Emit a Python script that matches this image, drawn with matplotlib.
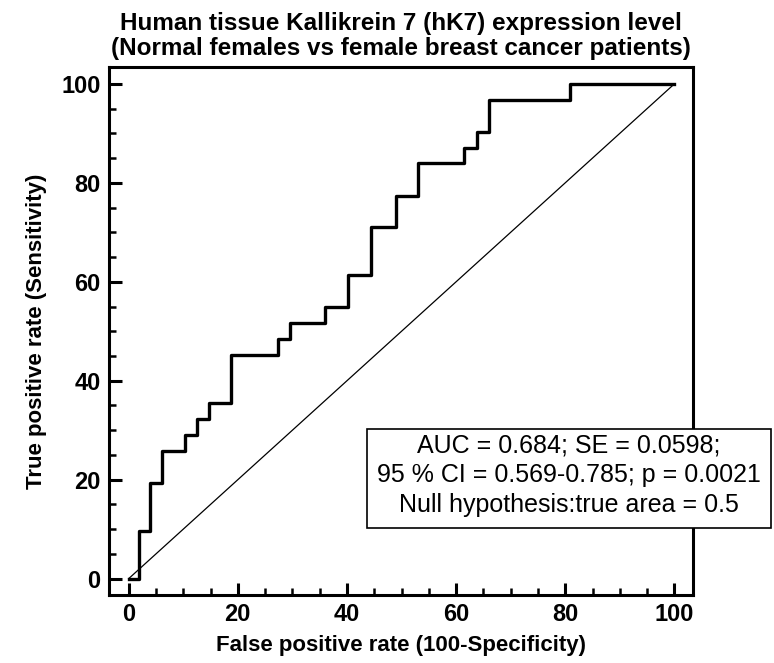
import matplotlib
matplotlib.use('Agg')
import matplotlib.pyplot as plt
from matplotlib.ticker import MultipleLocator
from matplotlib.patches import Rectangle

plt.rcParams['font.family'] = ['Liberation Sans', 'DejaVu Sans']

# ROC curve corner points, drawn as steps-post
fpr = [0, 1.9, 3.85, 6.1, 10.26, 12.5, 14.65, 18.8, 27.35, 29.5, 35.9,
       40.2, 44.4, 48.9, 53.0, 61.5, 63.8, 66.0, 80.9, 100]
tpr = [0, 9.7, 19.4, 25.8, 29.0, 32.3, 35.5, 45.2, 48.4, 51.6, 54.8,
       61.3, 71.0, 77.4, 83.9, 87.1, 90.3, 96.8, 100, 100]
ref_line = [0, 100]

title = ('Human tissue Kallikrein 7 (hK7) expression level\n'
         '(Normal females vs female breast cancer patients)')
stats_lines = ['AUC = 0.684; SE = 0.0598;',
               '95 % CI = 0.569-0.785; p = 0.0021',
               'Null hypothesis:true area = 0.5']

fig = plt.figure(figsize=(7.74, 6.63), dpi=100)
ax = fig.add_axes([109/774, 1 - 595/663, 584/774, 528/663])

ax.plot(ref_line, ref_line, color='black', lw=0.9)
ax.plot(fpr, tpr, color='black', lw=2.4, drawstyle='steps-post')

ax.set_xlim(-3.6, 103.4)
ax.set_ylim(-3.3, 103.4)
for s in ax.spines.values():
    s.set_linewidth(2.2)

ax.xaxis.set_major_locator(MultipleLocator(20))
ax.yaxis.set_major_locator(MultipleLocator(20))
ax.xaxis.set_minor_locator(MultipleLocator(5))
ax.yaxis.set_minor_locator(MultipleLocator(5))
ax.tick_params(which='major', direction='in', length=9, width=2.2,
               labelsize=17, pad=6)
ax.tick_params(which='minor', direction='in', length=5, width=1.8)
for lab in ax.get_xticklabels() + ax.get_yticklabels():
    lab.set_fontweight('bold')

ax.set_xlabel('False positive rate (100-Specificity)', fontsize=16,
              fontweight='bold', labelpad=6)
ax.set_ylabel('True positive rate (Sensitivity)', fontsize=16,
              fontweight='bold', labelpad=10)
ax.set_title(title, fontsize=17.5, fontweight='bold', pad=9, linespacing=1.1)

# stats box, partly outside the axes
x0, x1 = (367 - 128.5) / 5.465, (772 - 128.5) / 5.465
y0, y1 = 10.3, 30.3
ax.add_patch(Rectangle((x0, y0), x1 - x0, y1 - y0, facecolor='white',
                       edgecolor='black', lw=1.2, clip_on=False, zorder=5))
xc = (x0 + x1) / 2
for i, line in enumerate(stats_lines):
    ax.text(xc, y1 - 3.3 - i * 6.1, line, ha='center', va='center',
            fontsize=18, zorder=6, clip_on=False)

fig.savefig('out.png', dpi=100)
